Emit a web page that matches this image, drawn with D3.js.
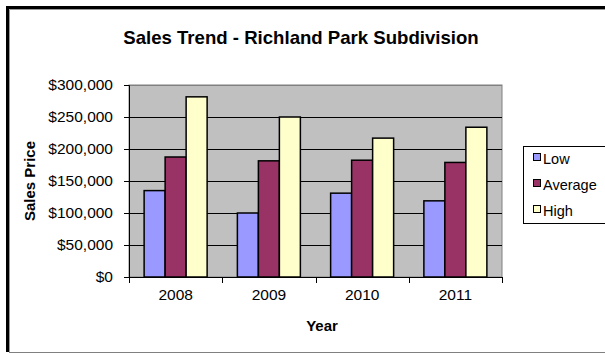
<!DOCTYPE html>
<html><head><meta charset="utf-8">
<script src="https://cdn.jsdelivr.net/npm/d3@7"></script>
<style>body{margin:0;background:#fff}svg{display:block}text{font-family:"Liberation Sans",Arial,sans-serif}</style>
</head><body>
<script>
const years = ["2008","2009","2010","2011"];
const seriesNames = ["Low","Average","High"];
const lowValues = [135000,100000,131000,119000];
const averageValues = [187500,181500,182500,179000];
const highValues = [281500,250000,217000,234000];
const colors = ["#9999FF","#993366","#FFFFCC"];
const yTicks = [0,50000,100000,150000,200000,250000,300000];

const W=605,H=353;
const svg=d3.select("body").append("svg").attr("width",W).attr("height",H);
svg.append("rect").attr("width",W).attr("height",H).attr("fill","#fff");
// outer border
svg.append("path").attr("d","M7.5,352 V7.5 H605").attr("fill","none").attr("stroke","#000").attr("stroke-width",3);
svg.append("path").attr("d","M9.5,352 V9.5 H605").attr("fill","none").attr("stroke","#999").attr("stroke-width",1);
svg.append("line").attr("x1",9).attr("x2",605).attr("y1",352.5).attr("y2",352.5).attr("stroke","#808080");

const pL=129,pR=502,pT=85,pB=277;
const x=d3.scaleBand().domain(years).range([pL,pR]);
const inner=d3.scaleBand().domain(seriesNames).range([0,x.bandwidth()]).paddingInner(0).paddingOuter(0.72);
const y=d3.scaleLinear().domain([0,300000]).range([pB,pT]);

svg.append("rect").attr("x",pL).attr("y",pT).attr("width",pR-pL).attr("height",pB-pT)
  .attr("fill","#C0C0C0").attr("stroke","#808080").attr("stroke-width",1);
svg.append("g").selectAll("line").data(yTicks.slice(1,-1)).join("line")
  .attr("x1",pL).attr("x2",pR).attr("y1",d=>Math.round(y(d))+0.5).attr("y2",d=>Math.round(y(d))+0.5)
  .attr("stroke","#000").attr("stroke-width",1);
svg.append("line").attr("x1",pL).attr("x2",pR).attr("y1",pT+0.5).attr("y2",pT+0.5).attr("stroke","#808080");

const data=years.map((yr,i)=>({yr,vals:[lowValues[i],averageValues[i],highValues[i]]}));
svg.append("g").selectAll("g").data(data).join("g")
  .attr("transform",d=>`translate(${x(d.yr)},0)`)
  .selectAll("rect").data(d=>d.vals.map((v,j)=>({v,s:seriesNames[j],j}))).join("rect")
  .attr("x",d=>inner(d.s)).attr("width",inner.bandwidth())
  .attr("y",d=>y(d.v)).attr("height",d=>pB-y(d.v))
  .attr("fill",d=>colors[d.j]).attr("stroke","#000").attr("stroke-width",1.5);

// y axis
const ya=svg.append("g").attr("transform",`translate(${pL},0)`)
  .call(d3.axisLeft(y).tickValues(yTicks).tickSize(5).tickPadding(11).tickFormat(d=>"$"+d3.format(",")(d)));
ya.select(".domain").attr("stroke","#000");
ya.selectAll("line").attr("stroke","#000");
ya.selectAll("text").attr("font-size",15.5).attr("fill","#000").attr("font-family","Liberation Sans, Arial, sans-serif");
// x axis
const xa=svg.append("g").attr("transform",`translate(0,${pB})`)
  .call(d3.axisBottom(x).tickSize(0).tickPadding(12));
xa.select(".domain").attr("stroke","#000");
xa.selectAll("text").attr("font-size",15.5).attr("fill","#000").attr("font-family","Liberation Sans, Arial, sans-serif");
svg.append("g").selectAll("line").data(years.map(d=>x(d)).concat([pR])).join("line")
  .attr("x1",d=>Math.round(d)+0.5).attr("x2",d=>Math.round(d)+0.5).attr("y1",pB).attr("y2",pB+6).attr("stroke","#000");

// titles
svg.append("text").attr("x",301).attr("y",44).attr("text-anchor","middle")
  .attr("font-size",18.6).attr("font-weight","bold").text("Sales Trend - Richland Park Subdivision");
svg.append("text").attr("x",322).attr("y",331).attr("text-anchor","middle")
  .attr("font-size",15).attr("font-weight","bold").text("Year");
svg.append("text").attr("transform",`translate(35,${(pT+pB)/2}) rotate(-90)`).attr("text-anchor","middle")
  .attr("font-size",15).attr("font-weight","bold").text("Sales Price");

// legend
const lg=svg.append("g");
lg.append("rect").attr("x",523.5).attr("y",146.5).attr("width",82).attr("height",77).attr("fill","#fff").attr("stroke","#000");
const li=lg.selectAll("g").data(seriesNames).join("g").attr("transform",(d,i)=>`translate(533,${159+i*26})`);
li.append("rect").attr("x",0.5).attr("y",-5.5).attr("width",7).attr("height",7).attr("fill",(d,i)=>colors[i]).attr("stroke","#000");
li.append("text").attr("x",10).attr("y",5).attr("font-size",14.5).text(d=>d);
</script>
</body></html>
